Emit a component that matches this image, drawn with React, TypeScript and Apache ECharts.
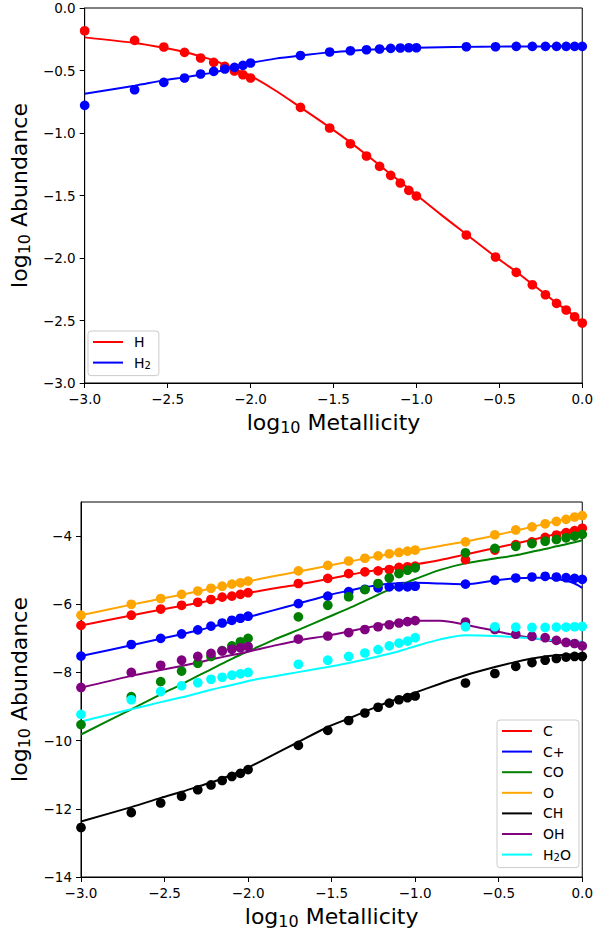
import React, { useEffect, useRef } from 'react';
import * as echarts from 'echarts';

// x positions of the sampled points (log10 metallicity)
const xPts = [-3, -2.699, -2.523, -2.398, -2.301, -2.222, -2.155, -2.097, -2.046, -2,
  -1.699, -1.523, -1.398, -1.301, -1.222, -1.155, -1.097, -1.046, -1,
  -0.699, -0.523, -0.398, -0.301, -0.222, -0.155, -0.097, -0.046, 0];
// x positions of the model curves
const xLine = [-3, -2.699, -2.523, -2.398, -2.301, -2.222, -2.155, -2.097, -2.046, -2, -1.85,
  -1.699, -1.523, -1.398, -1.301, -1.222, -1.155, -1.097, -1.046, -1, -0.85,
  -0.699, -0.523, -0.398, -0.301, -0.222, -0.155, -0.097, -0.046, 0];

// Top panel
const hPts = [-0.182, -0.259, -0.312, -0.355, -0.4, -0.435, -0.467, -0.504, -0.534, -0.56,
  -0.795, -0.96, -1.086, -1.184, -1.267, -1.339, -1.4, -1.459, -1.504,
  -1.816, -1.992, -2.115, -2.214, -2.294, -2.363, -2.416, -2.47, -2.52];
const h2Pts = [-0.779, -0.654, -0.595, -0.56, -0.528, -0.507, -0.488, -0.475, -0.459, -0.44,
  -0.38, -0.352, -0.342, -0.334, -0.328, -0.323, -0.32, -0.318, -0.318,
  -0.31, -0.31, -0.307, -0.307, -0.307, -0.307, -0.307, -0.307, -0.307];
const hLine = [-0.235, -0.28, -0.318, -0.352, -0.387, -0.419, -0.454, -0.486, -0.515, -0.542, -0.66,
  -0.795, -0.955, -1.075, -1.175, -1.258, -1.33, -1.39, -1.445, -1.495, -1.655,
  -1.81, -1.99, -2.11, -2.21, -2.29, -2.36, -2.415, -2.465, -2.515];
const h2Line = [-0.686, -0.622, -0.579, -0.555, -0.534, -0.515, -0.494, -0.472, -0.454, -0.44, -0.405,
  -0.38, -0.355, -0.343, -0.335, -0.329, -0.325, -0.322, -0.32, -0.318, -0.314,
  -0.311, -0.309, -0.308, -0.307, -0.307, -0.306, -0.306, -0.306, -0.306];

// Bottom panel: points
const cPts = [-6.62, -6.32, -6.14, -6.03, -5.94, -5.86, -5.79, -5.76, -5.71, -5.66,
  -5.39, -5.24, -5.1, -5.05, -5.02, -4.98, -4.92, -4.9, -4.88,
  -4.69, -4.41, -4.25, -4.17, -4.04, -3.97, -3.9, -3.84, -3.77];
const cpPts = [-7.52, -7.18, -7.0, -6.87, -6.75, -6.64, -6.55, -6.47, -6.41, -6.35,
  -5.98, -5.76, -5.63, -5.56, -5.52, -5.49, -5.49, -5.49, -5.47,
  -5.41, -5.29, -5.23, -5.2, -5.18, -5.2, -5.22, -5.24, -5.27];
const coPts = [-9.53, -8.71, -8.27, -7.96, -7.73, -7.53, -7.36, -7.22, -7.1, -7.0,
  -6.37, -6.03, -5.78, -5.57, -5.39, -5.23, -5.1, -5.0, -4.93,
  -4.49, -4.36, -4.3, -4.22, -4.15, -4.1, -4.05, -4.0, -3.95];
const oPts = [-6.32, -6.0, -5.83, -5.71, -5.61, -5.53, -5.47, -5.41, -5.37, -5.32,
  -5.02, -4.86, -4.73, -4.65, -4.58, -4.52, -4.48, -4.44, -4.41,
  -4.17, -3.96, -3.82, -3.73, -3.64, -3.57, -3.51, -3.44, -3.4];
const chPts = [-12.55, -12.11, -11.83, -11.63, -11.44, -11.3, -11.17, -11.05, -10.96, -10.85,
  -10.14, -9.7, -9.41, -9.19, -9.02, -8.9, -8.8, -8.74, -8.69,
  -8.31, -8.03, -7.82, -7.71, -7.64, -7.59, -7.55, -7.53, -7.53];
const ohPts = [-8.44, -8.0, -7.79, -7.64, -7.53, -7.44, -7.37, -7.32, -7.28, -7.24,
  -7.02, -6.93, -6.83, -6.74, -6.66, -6.6, -6.55, -6.51, -6.48,
  -6.52, -6.74, -6.88, -6.94, -6.98, -7.06, -7.12, -7.15, -7.22];
const h2oPts = [-9.23, -8.8, -8.56, -8.39, -8.3, -8.2, -8.14, -8.08, -8.04, -8.0,
  -7.76, -7.64, -7.53, -7.43, -7.33, -7.22, -7.14, -7.08, -6.98,
  -6.66, -6.66, -6.67, -6.68, -6.68, -6.67, -6.67, -6.66, -6.65];

// Bottom panel: model curves
const cLine = [-6.62, -6.33, -6.16, -6.05, -5.96, -5.89, -5.82, -5.77, -5.72, -5.67, -5.54,
  -5.42, -5.26, -5.14, -5.05, -4.99, -4.94, -4.9, -4.86, -4.83, -4.7,
  -4.54, -4.35, -4.22, -4.11, -4.02, -3.93, -3.86, -3.8, -3.74];
const cpLine = [-7.52, -7.2, -7.01, -6.88, -6.77, -6.67, -6.58, -6.51, -6.44, -6.38, -6.18,
  -5.98, -5.74, -5.6, -5.5, -5.44, -5.4, -5.38, -5.37, -5.37, -5.39,
  -5.41, -5.3, -5.24, -5.22, -5.22, -5.26, -5.31, -5.39, -5.52];
const coLine = [-9.82, -9.08, -8.64, -8.35, -8.1, -7.91, -7.74, -7.6, -7.48, -7.38, -7.05,
  -6.75, -6.38, -6.12, -5.9, -5.72, -5.57, -5.46, -5.35, -5.26, -4.99,
  -4.8, -4.66, -4.56, -4.46, -4.38, -4.3, -4.24, -4.18, -4.12];
const oLine = [-6.32, -6.01, -5.84, -5.72, -5.62, -5.54, -5.48, -5.43, -5.38, -5.33, -5.18,
  -5.04, -4.87, -4.75, -4.66, -4.59, -4.53, -4.49, -4.45, -4.42, -4.29,
  -4.16, -3.98, -3.84, -3.73, -3.64, -3.56, -3.5, -3.44, -3.38];
const chLine = [-12.37, -11.95, -11.68, -11.5, -11.35, -11.23, -11.11, -11.0, -10.9, -10.79, -10.42,
  -10.04, -9.6, -9.35, -9.15, -8.99, -8.86, -8.76, -8.67, -8.59, -8.33,
  -8.08, -7.84, -7.69, -7.59, -7.53, -7.5, -7.48, -7.47, -7.45];
const ohLine = [-8.45, -8.1, -7.93, -7.81, -7.71, -7.62, -7.55, -7.49, -7.44, -7.39, -7.22,
  -7.06, -6.92, -6.8, -6.7, -6.62, -6.57, -6.53, -6.5, -6.48, -6.48,
  -6.6, -6.78, -6.91, -6.99, -7.05, -7.1, -7.14, -7.17, -7.2];
const h2oLine = [-9.44, -9.08, -8.87, -8.73, -8.61, -8.51, -8.43, -8.37, -8.31, -8.25, -8.12,
  -7.99, -7.84, -7.72, -7.62, -7.53, -7.45, -7.38, -7.3, -7.23, -7.03,
  -6.91, -6.93, -6.97, -7.0, -7.03, -7.06, -7.08, -7.09, -7.1];

const topNames = ['H', 'H2'];
const bottomNames = ['C', 'C+', 'CO', 'O', 'CH', 'OH', 'H2O'];
const xTicks = [-3, -2.5, -2, -1.5, -1, -0.5, 0];
const yTopTicks = [-3, -2.5, -2, -1.5, -1, -0.5, 0];
const yBottomTicks = [-14, -12, -10, -8, -6, -4];

const FONT = 'DejaVu Sans';

const fmt1 = (v: number) => (v < -1e-9 ? '\u2212' : '') + Math.abs(v).toFixed(1);
const fmt0 = (v: number) => (v < -1e-9 ? '\u2212' : '') + Math.abs(v).toFixed(0);
const pair = (xs: number[], ys: number[]) => xs.map((x, i) => [x, ys[i]]);
const legendFmt = (name: string) => name.replace('2', '{sub|2}');

const topSpecies = [
  { name: 'H', color: '#ff0000', pts: hPts, line: hLine },
  { name: 'H2', color: '#0000ff', pts: h2Pts, line: h2Line },
];
const bottomSpecies = [
  { name: 'C', color: '#ff0000', pts: cPts, line: cLine },
  { name: 'C+', color: '#0000ff', pts: cpPts, line: cpLine },
  { name: 'CO', color: '#008000', pts: coPts, line: coLine },
  { name: 'O', color: '#ffa500', pts: oPts, line: oLine },
  { name: 'CH', color: '#000000', pts: chPts, line: chLine },
  { name: 'OH', color: '#800080', pts: ohPts, line: ohLine },
  { name: 'H2O', color: '#00ffff', pts: h2oPts, line: h2oLine },
];

const axisCommon = {
  type: 'value' as const,
  axisLine: { show: true, onZero: false, lineStyle: { color: '#000', width: 1 } },
  axisTick: { show: true, length: 5, lineStyle: { color: '#000', width: 1 } },
  splitLine: { show: false },
};
const labelCommon = { color: '#000', fontSize: 13.5, fontFamily: FONT, margin: 9 };
const nameStyle = {
  fontSize: 22,
  fontFamily: FONT,
  color: '#000',
  rich: { sub: { fontSize: 16, fontFamily: FONT, color: '#000', padding: [10, 0, 0, 0] } },
};

const legendCommon = {
  orient: 'vertical' as const,
  icon: 'rect',
  itemWidth: 30,
  itemHeight: 2,
  itemGap: 4.6,
  backgroundColor: 'rgba(255,255,255,0.8)',
  borderColor: '#cccccc',
  borderWidth: 1,
  borderRadius: 3,
  formatter: legendFmt,
  textStyle: {
    fontSize: 14,
    fontFamily: FONT,
    color: '#000',
    lineHeight: 16,
    padding: [0, 0, 0, 6],
    rich: { sub: { fontSize: 10, fontFamily: FONT, color: '#000', padding: [6, 0, 0, 0], lineHeight: 10 } },
  },
};

export default function App() {
  const ref = useRef<HTMLDivElement>(null);
  useEffect(() => {
    if (!ref.current) return;
    const chart = echarts.init(ref.current, null, { renderer: 'svg' });
    const series: any[] = [];
    topSpecies.forEach((s) => {
      series.push({
        name: s.name, type: 'line', xAxisIndex: 0, yAxisIndex: 0,
        data: pair(xLine, s.line), showSymbol: false, smooth: 0.3,
        lineStyle: { color: s.color, width: 2 }, itemStyle: { color: s.color }, z: 2,
      });
    });
    topSpecies.forEach((s) => {
      series.push({
        name: s.name + ' points', type: 'scatter', xAxisIndex: 0, yAxisIndex: 0,
        data: pair(xPts, s.pts), symbolSize: 9.7, itemStyle: { color: s.color, opacity: 1 }, z: 3,
      });
    });
    bottomSpecies.forEach((s) => {
      series.push({
        name: s.name, type: 'line', xAxisIndex: 1, yAxisIndex: 1,
        data: pair(xLine, s.line), showSymbol: false, smooth: 0.3,
        lineStyle: { color: s.color, width: 2 }, itemStyle: { color: s.color }, z: 2,
      });
    });
    bottomSpecies.forEach((s) => {
      series.push({
        name: s.name + ' points', type: 'scatter', xAxisIndex: 1, yAxisIndex: 1,
        data: pair(xPts, s.pts), symbolSize: 9.7, itemStyle: { color: s.color, opacity: 1 }, z: 3,
      });
    });

    chart.setOption({
      animation: false,
      backgroundColor: '#ffffff',
      grid: [
        { left: 81, top: 8, width: 503, height: 375, show: true, borderColor: '#000', borderWidth: 1 },
        { left: 81, top: 502, width: 503, height: 375, show: true, borderColor: '#000', borderWidth: 1 },
      ],
      xAxis: [0, 1].map((g) => ({
        ...axisCommon,
        gridIndex: g,
        min: -3,
        max: 0,
        interval: 0.5,
        axisLabel: { ...labelCommon, formatter: fmt1, customValues: xTicks },
        axisTick: { ...axisCommon.axisTick, customValues: xTicks },
        name: 'log{sub|10} Metallicity',
        nameLocation: 'middle',
        nameGap: 26,
        nameTextStyle: nameStyle,
      })),
      yAxis: [
        {
          ...axisCommon,
          gridIndex: 0,
          min: -3,
          max: 0,
          interval: 0.5,
          axisLabel: { ...labelCommon, formatter: fmt1, customValues: yTopTicks },
          axisTick: { ...axisCommon.axisTick, customValues: yTopTicks },
          name: 'log{sub|10} Abundance',
          nameLocation: 'middle',
          nameGap: 48,
          nameTextStyle: nameStyle,
        },
        {
          ...axisCommon,
          gridIndex: 1,
          min: -14,
          max: -3,
          interval: 2,
          axisLabel: {
            ...labelCommon,
            formatter: (v: number) => (v > -3.5 ? '' : fmt0(v)),
            customValues: yBottomTicks,
          },
          axisTick: { ...axisCommon.axisTick, customValues: yBottomTicks },
          name: 'log{sub|10} Abundance',
          nameLocation: 'middle',
          nameGap: 48,
          nameTextStyle: nameStyle,
        },
      ],
      legend: [
        { ...legendCommon, left: 88, top: 331, padding: [3, 8, 5, 5], data: topNames },
        { ...legendCommon, left: 497, top: 720, padding: [3, 8, 5, 5], data: bottomNames },
      ],
      series,
    });
    return () => chart.dispose();
  }, []);
  return (
    <div
      ref={ref}
      style={{ position: 'absolute', left: 0, top: 0, width: 596, height: 930 }}
    />
  );
}
